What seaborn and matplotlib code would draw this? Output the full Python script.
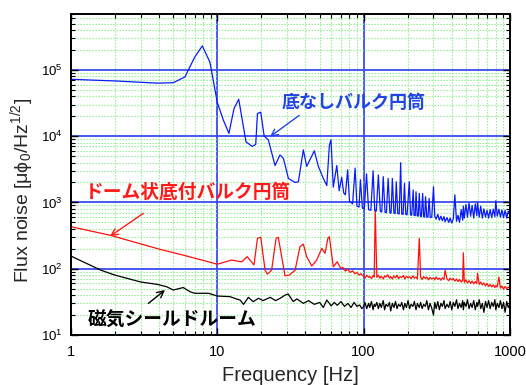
import matplotlib
matplotlib.use('Agg')
import matplotlib.pyplot as plt
import seaborn as sns
import pandas as pd

# ---------------- data ----------------
x_ticks = [1, 10, 100, 1000]
x_tick_labels = ['1', '10', '100', '1000']
y_ticks = [1e1, 1e2, 1e3, 1e4, 1e5]
y_tick_labels = [r'$10^{1}$', r'$10^{2}$', r'$10^{3}$', r'$10^{4}$', r'$10^{5}$']

# shared high-frequency grid (Hz)
hf_freq = [100, 102, 105, 108, 110, 113, 116, 118, 120, 123,
           126, 129, 132, 136, 139, 142, 146, 150, 153, 157,
           161, 165, 169, 173, 178, 182, 187, 191, 196, 201,
           206, 211, 217, 222, 228, 233, 240, 245, 251, 257,
           264, 270, 277, 284, 291, 300, 306, 313, 321, 329,
           337, 345, 354, 360, 371, 381, 390, 400, 410, 420,
           431, 441, 452, 464, 475, 480, 487, 500, 512, 525,
           538, 551, 565, 579, 593, 600, 616, 631, 647, 663,
           680, 697, 714, 732, 750, 769, 788, 800, 818, 840,
           860, 881, 903, 926, 949, 973, 1000]

# blue: bulk cylinder without bottom
blue_freq_lf = [1.0, 2.0, 3.0, 3.9, 5.0, 6.0, 7.0, 7.9, 8.9, 10.0,
                11.0, 12.0, 13.0, 14.0, 15.7, 17.3, 18.3, 18.8, 19.8, 20.9,
                22.3, 24.8, 26.8, 28.3, 30.6, 34.0, 35.8, 38.7, 40.8, 46.0,
                49.0, 53.0, 56.0, 58.3, 59.8,
                62, 65.5, 68, 70.8, 73, 75, 77.7, 80, 84, 87.4,
                90, 93, 95, 98, 101, 104.6, 108, 112, 116, 119,
                122, 126, 130, 133, 136, 140, 143, 147, 151, 154,
                157, 161, 164, 167, 171, 175, 179, 182, 186, 190,
                194, 198, 205, 209, 213, 218, 221, 225, 228, 232,
                236, 240, 244, 248, 253, 257, 261, 265, 270, 275,
                280, 285, 292]
blue_val_lf = [72000, 68000, 65000, 63000, 64000, 78000, 155000, 230000, 130000, 32000,
               17400, 11000, 26000, 36000, 8200, 7000, 7500, 22000, 23000, 10000,
               8800, 3600, 5200, 4600, 2300, 2000, 2050, 6200, 3500, 6000,
               3500, 2300, 1800, 7300, 8800,
               1700, 3600, 1500, 2400, 1400, 1300, 3100, 1050, 950, 3300,
               880, 850, 2200, 820, 800, 2700, 780, 760, 3000, 750,
               740, 2600, 730, 720, 2450, 710, 700, 2300, 700, 690,
               2300, 690, 680, 2050, 680, 670, 3970, 670, 660, 1940,
               660, 650, 2050, 650, 640, 1540, 640, 630, 1450, 630,
               620, 1370, 620, 610, 1370, 610, 600, 1220, 600, 600,
               1150, 590, 600]
blue_val_hf = [1730, 620, 560, 660, 540, 620, 530, 610, 510, 590,
               500, 580, 490, 570, 1300, 520, 640, 500, 780, 540,
               880, 580, 930, 600, 980, 620, 900, 580, 950, 630,
               1000, 600, 880, 580, 800, 600, 760, 580, 780, 590,
               790, 610, 1060, 620, 790, 600, 770, 590, 760, 580,
               740, 650]

# red: dome-shaped bulk cylinder with bottom
red_freq_lf = [1.0, 1.85, 4.05, 4.75, 6.2, 10.0, 12.5, 14.7, 16.0, 17.8,
               18.8, 19.8, 21.2, 22.0, 23.5, 25.2, 26.1, 27.5, 29.0, 31.0,
               34.0, 36.7, 38.7, 40.8, 44.2, 47.8, 51.7, 54.5, 56.9, 58.3,
               62.0, 66.0, 69.7, 72, 75, 78, 81, 84, 87, 90,
               93, 96, 98]
red_val_lf = [430, 320, 196, 180, 155, 117, 135, 127, 152, 114,
              287, 298, 95, 83, 95, 287, 298, 152, 78, 80,
              95, 215, 235, 152, 110, 135, 203, 171, 287, 304,
              107, 127, 101, 105, 92, 98, 88, 93, 84, 88,
              80, 84, 79]
red_val_hf = [78, 72, 80, 74, 77, 71, 79, 75, 770, 74,
              80, 72, 77, 70, 78, 75, 81, 72, 76, 70,
              78, 73, 80, 71, 76, 74, 79, 70, 77, 73,
              76, 71, 78, 72, 75, 70, 287, 74, 69, 76,
              71, 75, 68, 74, 70, 73, 68, 75, 69, 72,
              67, 73, 69, 95, 70, 66, 72, 68, 71, 65,
              70, 64, 69, 63, 67, 174, 62, 68, 61, 66,
              60, 65, 59, 64, 60, 85, 58, 63, 57, 61,
              55, 60, 54, 58, 53, 57, 52, 56, 53, 75,
              51, 55, 49, 54, 50, 53, 50]

# black: magnetically shielded room
black_freq_lf = [1.0, 1.3, 1.6, 2.0, 2.5, 3.0, 3.9, 4.5, 5.0, 5.85,
                 6.5, 7.0, 8.7, 10.0, 12.2, 13.5, 14.3, 15.1, 16.3, 17.6,
                 19.1, 20.5, 23.0, 25.0, 27.0, 29.0, 30.5, 33.0, 35.0, 38.7,
                 42, 46, 50, 53, 56, 60, 63, 66, 70, 74,
                 78, 82, 86, 90, 94, 97]
black_val_lf = [155, 118, 95, 80, 70, 63, 58, 53.5, 47.7, 52,
                45, 42.6, 42.6, 38.7, 37.9, 35, 33.7, 29, 37, 31.8,
                35.8, 33, 37, 33, 36, 40, 41.5, 32, 35, 30,
                33, 29, 31, 26, 33.7, 27.5, 31, 28, 32, 27,
                30, 26, 31, 27, 28.4, 25]
black_val_hf = [27, 31, 25, 30, 26, 32, 24, 29, 27, 31,
                25, 30, 26, 33, 24, 29, 27, 31, 23, 30,
                26, 32, 25, 29, 27, 31, 24, 30, 26, 33,
                25, 29, 27, 32, 24, 30, 26, 31, 25, 29,
                27, 33, 24, 30, 26, 20, 31, 25, 32, 24,
                30, 27, 33, 25, 29, 26, 32, 24, 31, 27,
                34, 25, 30, 26, 33, 24, 31, 27, 34, 25,
                30, 26, 33, 24, 31, 27, 34, 25, 30, 22,
                32, 26, 33, 25, 31, 27, 34, 24, 30, 26,
                33, 25, 31, 22, 32, 26, 30]

labels = ['底なしバルク円筒', 'ドーム状底付バルク円筒', '磁気シールドルーム']

# ---------------- build frames ----------------
blue_df = pd.DataFrame({'f': blue_freq_lf + hf_freq[45:], 'v': blue_val_lf + blue_val_hf})
red_df = pd.DataFrame({'f': red_freq_lf + hf_freq, 'v': red_val_lf + red_val_hf})
black_df = pd.DataFrame({'f': black_freq_lf + hf_freq, 'v': black_val_lf + black_val_hf})

# ---------------- style ----------------
sns.set_style('ticks')
plt.rcParams['font.family'] = ['Liberation Sans', 'DejaVu Sans']
plt.rcParams['mathtext.fontset'] = 'custom'
plt.rcParams['mathtext.rm'] = 'Liberation Sans'
plt.rcParams['mathtext.it'] = 'Liberation Sans:italic'
plt.rcParams['mathtext.bf'] = 'Liberation Sans:bold'

fig = plt.figure(figsize=(5.26, 3.85), dpi=100)
ax = fig.add_axes([71 / 526, 1 - 335 / 385, (510 - 71) / 526, (335 - 13.5) / 385])
ax.set_xscale('log')
ax.set_yscale('log')
ax.set_xlim(1, 1000)
ax.set_ylim(10, 10 ** 5.85)

ax.set_axisbelow(True)
ax.grid(which='minor', color='#88ee88', lw=0.8, ls=(0, (1.2, 1.5)))
ax.grid(which='major', color='#3a4cf0', lw=1.3)

sns.lineplot(data=black_df, x='f', y='v', ax=ax, color='black', lw=0.9,
             estimator=None, sort=False)
sns.lineplot(data=red_df, x='f', y='v', ax=ax, color='#ff1010', lw=0.9,
             estimator=None, sort=False)
sns.lineplot(data=blue_df, x='f', y='v', ax=ax, color='#0a1aff', lw=0.9,
             estimator=None, sort=False)

ax.set_xticks(x_ticks)
ax.set_xticklabels(x_tick_labels, fontsize=10.5)
ax.set_yticks(y_ticks)
ax.set_yticklabels(y_tick_labels, fontsize=9.5)
ax.tick_params(which='both', direction='in', top=True, right=True, colors='black')
ax.tick_params(which='major', length=5, width=1)
ax.tick_params(which='minor', length=3, width=0.8)
ax.tick_params(axis='x', pad=7)
ax.tick_params(axis='y', pad=6)
for s in ax.spines.values():
    s.set_linewidth(1.4)
    s.set_color('black')

ax.set_xlabel('Frequency [Hz]', fontsize=14.5)
ax.set_ylabel(r'Flux noise [μϕ$_0$/Hz$^{1/2}$]', fontsize=14)
ax.xaxis.set_label_coords(0.5, -0.095)
ax.yaxis.set_label_coords(-0.08, 0.45)

jp = ['Noto Sans CJK JP', 'DejaVu Sans']
ax.annotate(labels[0], xy=(22.9, 9800), xytext=(27.7, 32000), color='#2244e6',
            fontsize=13, family=jp, fontweight='bold', ha='left', va='center',
            arrowprops=dict(arrowstyle='->', color='#2244e6', lw=1,
                            shrinkA=0, shrinkB=0, mutation_scale=12,
                            relpos=(0.15, 0.0)))
ax.text(1.25, 1450, labels[1], color='#ff1a1a', fontsize=13.5, family=jp,
        fontweight='bold', ha='left', va='center')
ax.annotate('', xy=(1.85, 310), xytext=(3.12, 683),
            arrowprops=dict(arrowstyle='->', color='#ff1a1a', lw=1,
                            shrinkA=0, shrinkB=0, mutation_scale=12))
ax.text(1.31, 16.8, labels[2], color='black', fontsize=13.5, family=jp,
        fontweight='bold', ha='left', va='center')
ax.annotate('', xy=(4.39, 47.7), xytext=(3.38, 30),
            arrowprops=dict(arrowstyle='->', color='black', lw=1,
                            shrinkA=0, shrinkB=0, mutation_scale=12))

fig.savefig('out.png', dpi=100)
